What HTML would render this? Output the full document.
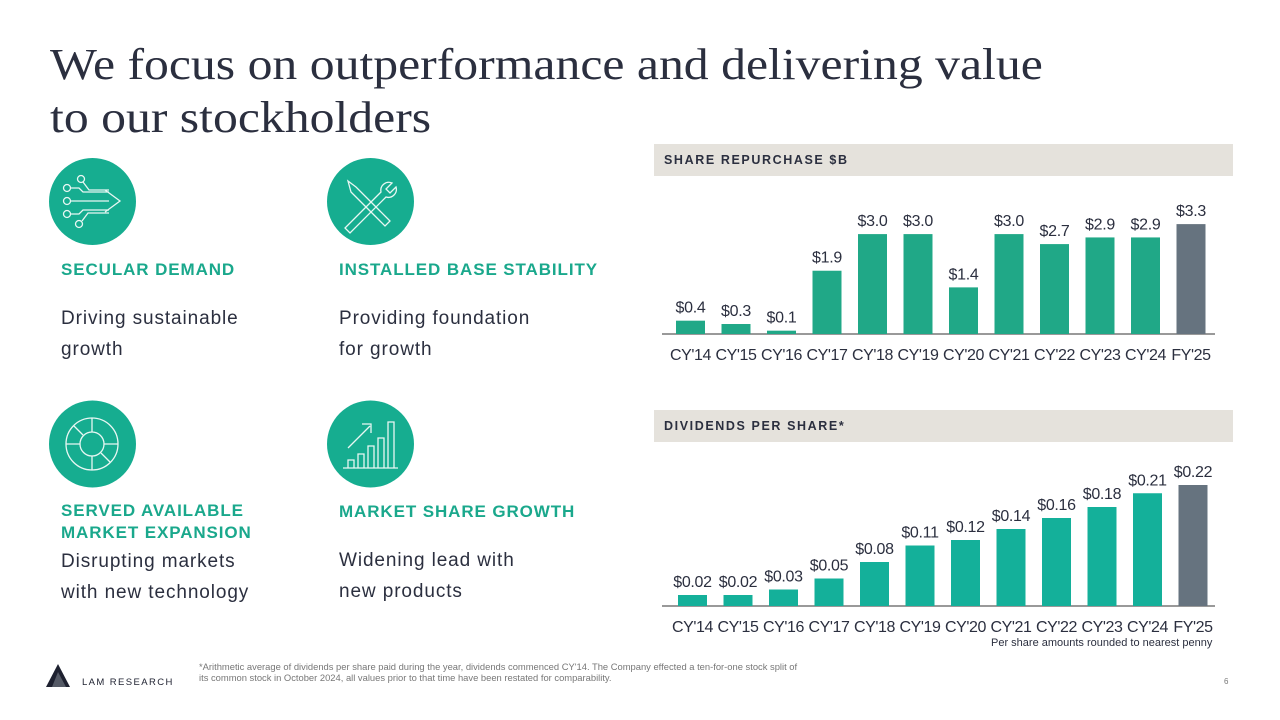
<!DOCTYPE html>
<html><head><meta charset="utf-8">
<style>
body{margin:0;width:1280px;height:720px;background:#fff;position:relative;overflow:hidden;font-family:"Liberation Sans",sans-serif}
.t{position:absolute;white-space:nowrap}
h1{position:absolute;left:50px;top:38px;margin:0;font-family:"Liberation Serif",serif;font-weight:normal;font-size:44px;line-height:53px;color:#2b2f3f;transform:scaleX(1.13);transform-origin:0 0;white-space:nowrap}
.head{color:#1aa88c;font-weight:bold;font-size:17px;line-height:20px;letter-spacing:0.9px}
.body{color:#2b2f3f;font-size:19px;line-height:31px;letter-spacing:0.9px}
.band{position:absolute;left:654px;width:579px;height:32px;background:#e5e2dc}
.band span{position:absolute;left:10px;top:9px;font-size:12.5px;font-weight:bold;letter-spacing:1.6px;color:#2b2f3f}
</style></head><body>
<h1>We focus on outperformance and delivering value<br>to our stockholders</h1>

<svg class="t" style="left:0;top:0" width="640" height="720">
<g><circle cx="92.5" cy="201.5" r="43.5" fill="#16ad90"/>
<g stroke="#e8f7f3" stroke-width="1.3" fill="none"><circle cx="81" cy="179" r="3.5"/><circle cx="67" cy="188" r="3.5"/><circle cx="67" cy="201" r="3.5"/><circle cx="67" cy="214" r="3.5"/><circle cx="79" cy="224" r="3.5"/>
<path d="M83 182l6 8h20M71 188h8l4 4h26M71 201h38M71 214h8l4-4h26M82 221l6-8h21M105 190l15 11-15 11"/></g></g>
<g><circle cx="370.5" cy="201.5" r="43.5" fill="#16ad90"/>
<g stroke="#e8f7f3" stroke-width="1.3" fill="none"><path d="M348 181l8 6 24 24 6 6 4 4-5 5-4-4-6-6-24-24z"/><path d="M392 183l-6 6 4 4 6-6a8 8 0 0 1-10 10l-36 36-5-5 36-36a8 8 0 0 1 11-9z"/></g></g>
<g><circle cx="92.5" cy="444" r="43.5" fill="#16ad90"/>
<g stroke="#e8f7f3" stroke-width="1.3" fill="none"><circle cx="92" cy="444" r="26"/><circle cx="92" cy="444" r="12"/><path d="M92 418v14M104 444h14M92 456v14M66 444h14M74 426l9 9M110 462l-9-9"/></g></g>
<g><circle cx="370.5" cy="444" r="43.5" fill="#16ad90"/>
<g stroke="#e8f7f3" stroke-width="1.3" fill="none"><path d="M343 468h55M348 468v-8h6v8M358 468v-14h6v14M368 468v-22h6v22M378 468v-30h6v30M388 468v-46h6v46M348 448l22-22M362 424h9v9"/></g></g>
</svg>

<div class="t head" style="left:61px;top:260px">SECULAR DEMAND</div>
<div class="t body" style="left:61px;top:303px">Driving sustainable<br>growth</div>
<div class="t head" style="left:339px;top:260px">INSTALLED BASE STABILITY</div>
<div class="t body" style="left:339px;top:303px">Providing foundation<br>for growth</div>
<div class="t head" style="left:61px;top:500px;line-height:22px">SERVED AVAILABLE<br>MARKET EXPANSION</div>
<div class="t body" style="left:61px;top:546px">Disrupting markets<br>with new technology</div>
<div class="t head" style="left:339px;top:502px">MARKET SHARE GROWTH</div>
<div class="t body" style="left:339px;top:545px">Widening lead with<br>new products</div>

<div class="band" style="top:144px"><span>SHARE REPURCHASE $B</span></div>
<div class="band" style="top:410px"><span>DIVIDENDS PER SHARE*</span></div>

<svg id="charts" class="t" style="left:0;top:0" width="1280" height="720"></svg>

<div class="t" style="left:991px;top:637px;font-size:11px;color:#2b2f3f">Per share amounts rounded to nearest penny</div>

<svg class="t" style="left:46px;top:664px" width="24" height="24"><path d="M12 0L0 23h24z" fill="#1e2130"/><path d="M12 8L6 23h14z" fill="#555a66"/></svg>
<div class="t" style="left:82px;top:677px;font-size:9.5px;letter-spacing:1.4px;color:#1e2130">LAM RESEARCH</div>
<div class="t" style="left:199px;top:661px;font-size:9.4px;line-height:11px;color:#777">*Arithmetic average of dividends per share paid during the year, dividends commenced CY'14. The Company effected a ten-for-one stock split of<br>its common stock in October 2024, all values prior to that time have been restated for comparability.</div>
<div class="t" style="left:1224px;top:677px;font-size:8px;color:#777">6</div>

<script>
const categories=["CY'14","CY'15","CY'16","CY'17","CY'18","CY'19","CY'20","CY'21","CY'22","CY'23","CY'24","FY'25"];
const repurchaseValues=[0.4,0.3,0.1,1.9,3.0,3.0,1.4,3.0,2.7,2.9,2.9,3.3];
const repurchaseLabels=["$0.4","$0.3","$0.1","$1.9","$3.0","$3.0","$1.4","$3.0","$2.7","$2.9","$2.9","$3.3"];
const dividendValues=[0.02,0.02,0.03,0.05,0.08,0.11,0.12,0.14,0.16,0.18,0.205,0.22];
const dividendLabels=["$0.02","$0.02","$0.03","$0.05","$0.08","$0.11","$0.12","$0.14","$0.16","$0.18","$0.21","$0.22"];
const NS="http://www.w3.org/2000/svg";
const svg=document.getElementById('charts');
function mk(tag,attrs){const e=document.createElementNS(NS,tag);for(const k in attrs)e.setAttribute(k,attrs[k]);svg.appendChild(e);return e;}
function drawChart(name,vals,labels,baseY,pxPerUnit,color,left){
  const x=i=>left+i*45.5;
  const y=v=>baseY-v*pxPerUnit;
  const ax=mk('line',{x1:662,x2:1215,y1:baseY,y2:baseY,stroke:'#333','stroke-width':1});
  
  
  vals.forEach((v,i)=>{
    const last=i===vals.length-1;
    const r=mk('rect',{x:x(i),y:y(v),width:29,height:baseY-y(v),fill:last?'#66737f':color});
    
    
    const t=mk('text',{x:x(i)+14.5,y:y(v)-8,'text-anchor':'middle','font-size':16,fill:'#2b2f3f','font-family':'Liberation Sans, sans-serif','letter-spacing':'-0.3'});
    t.textContent=labels[i];
    
    
    const c=mk('text',{x:x(i)+14.5,y:baseY+26,'text-anchor':'middle','font-size':16,fill:'#2b2f3f','font-family':'Liberation Sans, sans-serif','letter-spacing':'-0.4'});
    c.textContent=categories[i];
    
    
  });
}
drawChart('repurchase',repurchaseValues,repurchaseLabels,334,33.3,'#20a887',676);
drawChart('dividend',dividendValues,dividendLabels,606,550,'#14b09a',678);
</script>
</body></html>
